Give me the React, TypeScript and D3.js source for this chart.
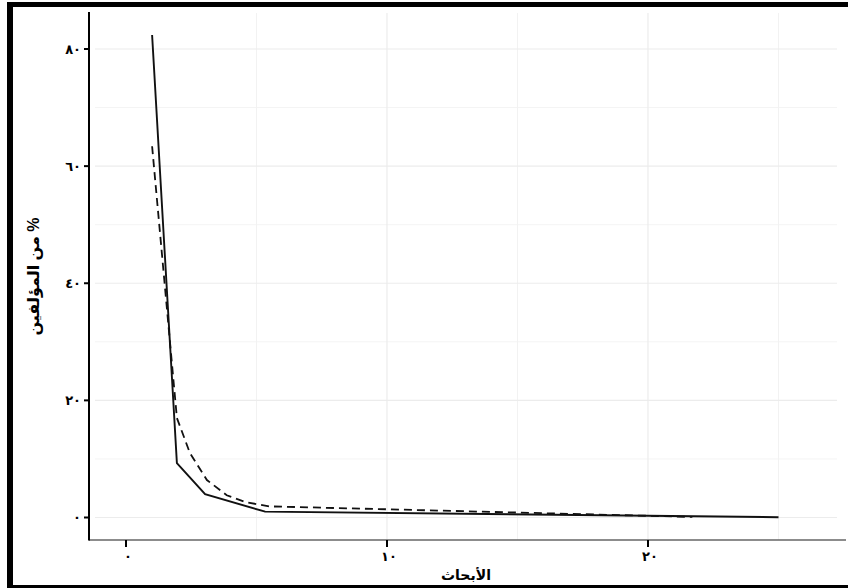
import React from "react";
import * as d3 from "d3";

const solidX = [1, 1.95, 3.03, 5.33, 25];
const solidY = [82.4, 9.3, 4.0, 1.0, 0.05];
const dashedX = [1, 1.95, 2.45, 3.1, 3.86, 4.6, 5.5, 21.7];
const dashedY = [63.4, 17.0, 11.0, 6.4, 3.8, 2.6, 1.9, 0.1];
const xTicks = [0, 10, 20];
const xMinor = [5, 15, 25];
const yTicks = [0, 20, 40, 60, 80];
const yMinor = [10, 30, 50, 70];
const arabicDigits = ["٠", "١", "٢", "٣", "٤", "٥", "٦", "٧", "٨", "٩"];
const xTitle = "الأبحاث";
const yTitle = "% من المؤلفين";

const toArabic = (n: number) =>
  String(n)
    .split("")
    .map((c) => arabicDigits[+c])
    .join("");

export default function App() {
  const W = 848;
  const H = 588;
  const x = d3.scaleLinear().domain([0, 20]).range([126, 648]);
  const y = d3.scaleLinear().domain([0, 80]).range([517.5, 49]);
  const panel = { left: 95, right: 837, top: 13, bottom: 540 };
  const line = d3
    .line<[number, number]>()
    .x((d) => x(d[0]))
    .y((d) => y(d[1]));
  const solid = solidX.map((v, i) => [v, solidY[i]] as [number, number]);
  const dashed = dashedX.map((v, i) => [v, dashedY[i]] as [number, number]);
  const font = "Arial, 'Liberation Sans', 'DejaVu Sans', sans-serif";

  return (
    <svg
      width={W}
      height={H}
      style={{ position: "absolute", left: 0, top: 0, background: "#fff" }}
      fontFamily={font}
    >
      <rect x={0} y={0} width={W} height={H} fill="#fff" />
      {/* grid */}
      {yMinor.map((v) => (
        <line key={"ym" + v} x1={panel.left} x2={panel.right} y1={y(v)} y2={y(v)} stroke="#f4f4f4" strokeWidth={1} />
      ))}
      {xMinor.map((v) => (
        <line key={"xm" + v} x1={x(v)} x2={x(v)} y1={panel.top} y2={panel.bottom} stroke="#f2f2f2" strokeWidth={1} />
      ))}
      {yTicks.map((v) => (
        <line key={"yg" + v} x1={panel.left} x2={panel.right} y1={y(v)} y2={y(v)} stroke="#ececec" strokeWidth={1.2} />
      ))}
      {xTicks
        .filter((v) => v > 0)
        .map((v) => (
          <line key={"xg" + v} x1={x(v)} x2={x(v)} y1={panel.top} y2={panel.bottom} stroke="#ececec" strokeWidth={1.2} />
        ))}
      {/* lines */}
      <path d={line(dashed) || ""} fill="none" stroke="#111" strokeWidth={1.8} strokeDasharray="8,5" />
      <path d={line(solid) || ""} fill="none" stroke="#111" strokeWidth={1.9} />
      {/* axes */}
      <line x1={89} x2={846} y1={540} y2={540} stroke="#666" strokeWidth={1.3} />
      <line x1={89} x2={89} y1={12} y2={540.5} stroke="#000" strokeWidth={2} />
      {yTicks.map((v) => (
        <g key={"yt" + v}>
          <line x1={84} x2={89} y1={y(v)} y2={y(v)} stroke="#000" strokeWidth={2} />
          <text x={81} y={y(v)} dy="0.35em" textAnchor="end" fontSize={13} fontWeight="bold" fill="#000">
            {toArabic(v)}
          </text>
        </g>
      ))}
      {xTicks.map((v) => (
        <g key={"xt" + v}>
          <line x1={x(v)} x2={x(v)} y1={540} y2={547} stroke="#000" strokeWidth={2} />
          <text x={x(v) + 2} y={556} dy="0.35em" textAnchor="middle" fontSize={13} fontWeight="bold" fill="#000">
            {toArabic(v)}
          </text>
        </g>
      ))}
      {/* titles */}
      <text x={466} y={575} dy="0.35em" textAnchor="middle" fontSize={14} fontWeight="bold" fill="#000" direction="rtl">
        {xTitle}
      </text>
      <text
        transform={`translate(33, ${(panel.top + panel.bottom) / 2}) rotate(-90)`}
        dy="0.35em"
        textAnchor="middle"
        fontSize={16}
        fontWeight="bold"
        fill="#000"
        direction="rtl"
        style={{ direction: "rtl", unicodeBidi: "embed" }}
      >
        {yTitle}
      </text>
      {/* frame */}
      <rect x={7} y={2} width={W - 7} height={5} fill="#000" />
      <rect x={7} y={2} width={6} height={H - 2} fill="#000" />
      <rect x={7} y={585} width={W - 7} height={3} fill="#000" />
    </svg>
  );
}
